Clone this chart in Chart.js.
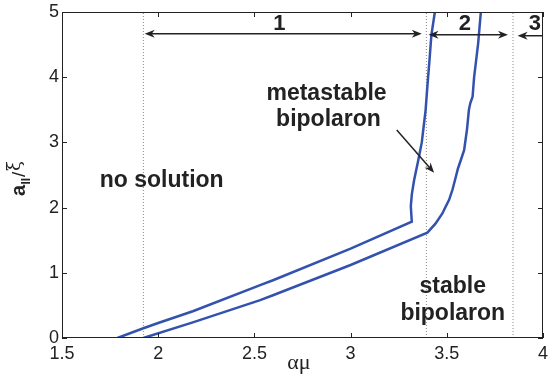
<!DOCTYPE html>
<html>
<head>
<meta charset="UTF-8">
<title>bipolaron phase diagram</title>
<script src="https://cdn.jsdelivr.net/npm/chart.js@4.4.0/dist/chart.umd.min.js"></script>
<style>
  body { margin: 0; background: #fff; }
  #wrap { width: 548px; height: 377px; }
</style>
</head>
<body>
<div id="wrap"><canvas id="myChart" width="548" height="377"></canvas></div>

<script>
// upper curve (metastable boundary)
var metaX = [1.788, 1.923, 2.0, 2.18, 2.53, 2.6, 3.0, 3.318, 3.313, 3.318, 3.33, 3.352, 3.37, 3.39, 3.40, 3.41, 3.42, 3.438];
var metaY = [0, 0.15, 0.23, 0.41, 0.81, 0.89, 1.37, 1.784, 2.02, 2.2, 2.42, 2.73, 3.0, 3.5, 3.9, 4.26, 4.65, 5.0];

// lower curve (stable boundary)
var stableX = [1.923, 2.18, 2.53, 2.6, 3.0, 3.399, 3.44, 3.477, 3.49, 3.512, 3.53, 3.545, 3.558, 3.573, 3.59, 3.605, 3.615, 3.622, 3.634, 3.642, 3.663, 3.677];
var stableY = [0, 0.24, 0.58, 0.66, 1.12, 1.615, 1.75, 1.91, 1.99, 2.12, 2.28, 2.45, 2.6, 2.73, 2.88, 3.2, 3.5, 3.6, 3.7, 4.0, 4.52, 5.0];

// dotted region boundaries
var boundaries = [1.923, 3.394, 3.844];

// horizontal region arrows
var arrowFrom = [1.93, 3.405, 3.868];
var arrowTo   = [3.37, 3.818, 4.0];
var arrowY    = [4.667, 4.652, 4.636];
var arrowHeadLeft  = [true, true, true];
var arrowHeadRight = [true, true, false];
var regionLabels = ['1', '2', '3'];
var regionLabelX = [2.63, 3.594, 3.958];
var regionLabelY = [4.81, 4.81, 4.81];

// text annotations
var noteText = ['no solution', 'metastable', 'bipolaron', 'stable', 'bipolaron'];
var noteX    = [2.018, 2.875, 2.885, 3.531, 3.531];
var noteY    = [2.41, 3.753, 3.344, 0.787, 0.379];

// pointer arrow to metastable region
var pointerFrom = [3.24, 3.19];
var pointerTo   = [3.434, 2.535];

var xTicks = [1.5, 2, 2.5, 3, 3.5, 4];
var yTicks = [0, 1, 2, 3, 4, 5];

var lineColor = '#3352ad';
var inkColor = '#222';

function toPts(xs, ys) {
  return xs.map(function (x, i) { return { x: x, y: ys[i] }; });
}

var datasets = [
  { data: toPts(metaX, metaY), borderColor: lineColor, borderWidth: 2.5 },
  { data: toPts(stableX, stableY), borderColor: lineColor, borderWidth: 2.5 }
];
boundaries.forEach(function (b) {
  datasets.push({
    data: [{ x: b, y: 0 }, { x: b, y: 5 }],
    borderColor: '#8a8a8a', borderWidth: 1, borderDash: [1, 2]
  });
});

function arrowHead(ctx, tx, ty, dir, len, half) {
  // stealth head pointing along dir (radians)
  ctx.save();
  ctx.translate(tx, ty);
  ctx.rotate(dir);
  ctx.beginPath();
  ctx.moveTo(0, 0);
  ctx.lineTo(-len, -half);
  ctx.lineTo(-len * 0.7, 0);
  ctx.lineTo(-len, half);
  ctx.closePath();
  ctx.fill();
  ctx.restore();
}

var decor = {
  id: 'decor',
  afterDatasetsDraw: function (chart) {
    var ctx = chart.ctx, a = chart.chartArea;
    var xs = chart.scales.x, ys = chart.scales.y;
    ctx.save();

    // frame + inward ticks
    ctx.strokeStyle = inkColor;
    ctx.lineWidth = 1;
    ctx.strokeRect(a.left + 0.5, a.top + 0.5, a.right - a.left - 1, a.bottom - a.top - 1);
    ctx.beginPath();
    xTicks.forEach(function (t) {
      var px = Math.round(xs.getPixelForValue(t)) + 0.5;
      ctx.moveTo(px, a.bottom); ctx.lineTo(px, a.bottom - 5);
      ctx.moveTo(px, a.top); ctx.lineTo(px, a.top + 5);
    });
    yTicks.forEach(function (t) {
      var py = Math.round(ys.getPixelForValue(t)) + 0.5;
      ctx.moveTo(a.left, py); ctx.lineTo(a.left + 5, py);
      ctx.moveTo(a.right, py); ctx.lineTo(a.right - 5, py);
    });
    ctx.stroke();

    // region arrows
    ctx.fillStyle = inkColor;
    ctx.strokeStyle = inkColor;
    ctx.lineWidth = 1.5;
    for (var i = 0; i < arrowFrom.length; i++) {
      var x1 = xs.getPixelForValue(arrowFrom[i]);
      var x2 = xs.getPixelForValue(arrowTo[i]);
      var py = ys.getPixelForValue(arrowY[i]);
      ctx.beginPath();
      ctx.moveTo(x1 + (arrowHeadLeft[i] ? 5 : 0), py);
      ctx.lineTo(x2 - (arrowHeadRight[i] ? 5 : 0), py);
      ctx.stroke();
      if (arrowHeadLeft[i]) arrowHead(ctx, x1, py, Math.PI, 10, 4);
      if (arrowHeadRight[i]) arrowHead(ctx, x2, py, 0, 10, 4);
    }

    // region numbers
    ctx.font = 'bold 22px "Liberation Sans", Arial, sans-serif';
    ctx.textAlign = 'center';
    ctx.textBaseline = 'middle';
    regionLabels.forEach(function (s, i) {
      ctx.fillText(s, xs.getPixelForValue(regionLabelX[i]), ys.getPixelForValue(regionLabelY[i]));
    });

    // annotations
    ctx.font = 'bold 23px "Liberation Sans", Arial, sans-serif';
    noteText.forEach(function (s, i) {
      ctx.fillText(s, xs.getPixelForValue(noteX[i]), ys.getPixelForValue(noteY[i]));
    });

    // pointer arrow
    var sx = xs.getPixelForValue(pointerFrom[0]), sy = ys.getPixelForValue(pointerFrom[1]);
    var ex = xs.getPixelForValue(pointerTo[0]), ey = ys.getPixelForValue(pointerTo[1]);
    var ang = Math.atan2(ey - sy, ex - sx);
    ctx.beginPath();
    ctx.moveTo(sx, sy);
    ctx.lineTo(ex - 6 * Math.cos(ang), ey - 6 * Math.sin(ang));
    ctx.stroke();
    arrowHead(ctx, ex, ey, ang, 10, 4);

    // x axis title
    ctx.font = '22px "Liberation Serif", "DejaVu Serif", serif';
    ctx.textBaseline = 'alphabetic';
    ctx.fillText('\u03b1\u03bc', 299, 369);

    // y axis title a_||/xi (rotated)
    ctx.translate(25, 196);
    ctx.rotate(-Math.PI / 2);
    ctx.textAlign = 'left';
    ctx.font = 'bold 20px "Liberation Sans", Arial, sans-serif';
    ctx.fillText('a', 0, 0);
    ctx.font = 'bold 12px "Liberation Sans", Arial, sans-serif';
    ctx.fillText('II', 11.5, 5);
    ctx.font = '19px "Liberation Sans", Arial, sans-serif';
    ctx.fillText('/', 19, 0);
    ctx.font = '18px "DejaVu Serif", "Liberation Serif", serif';
    ctx.fillText('\u03be', 25, -5);

    ctx.restore();
  }
};

var chart = new Chart(document.getElementById('myChart').getContext('2d'), {
  type: 'line',
  data: { datasets: datasets },
  options: {
    responsive: false,
    animation: false,
    parsing: false,
    layout: { padding: { top: 12, right: 5, left: 0, bottom: 0 } },
    elements: { point: { radius: 0 }, line: { tension: 0, fill: false } },
    plugins: { legend: { display: false }, tooltip: { enabled: false } },
    scales: {
      x: {
        type: 'linear', min: 1.5, max: 4,
        afterBuildTicks: function (s) { s.ticks = xTicks.map(function (v) { return { value: v }; }); },
        ticks: {
          color: inkColor, padding: 5,
          font: { size: 18, family: '"Liberation Sans", Arial, sans-serif' },
          callback: function (v) { return String(v); }
        },
        grid: { display: false, drawTicks: false },
        border: { display: false },
        afterFit: function (s) { s.height = 39; s.paddingLeft = 0; s.paddingRight = 0; }
      },
      y: {
        type: 'linear', min: 0, max: 5,
        afterBuildTicks: function (s) { s.ticks = yTicks.map(function (v) { return { value: v }; }); },
        ticks: {
          color: inkColor, padding: 3,
          font: { size: 18, family: '"Liberation Sans", Arial, sans-serif' },
          callback: function (v) { return String(v); }
        },
        grid: { display: false, drawTicks: false },
        border: { display: false },
        afterFit: function (s) { s.width = 62; s.paddingTop = 0; s.paddingBottom = 0; }
      }
    }
  },
  plugins: [decor]
});
</script>
</body>
</html>
